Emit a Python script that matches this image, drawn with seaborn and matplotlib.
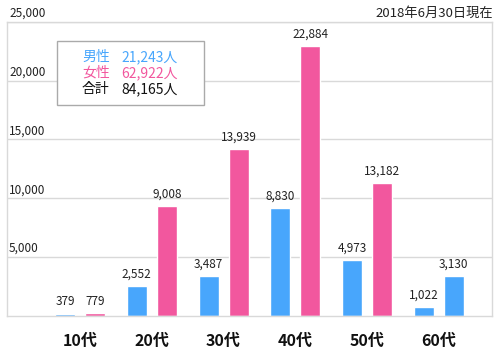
import matplotlib
matplotlib.use("Agg")
import matplotlib.pyplot as plt
import seaborn as sns
import pandas as pd
from matplotlib.patches import Rectangle

sns.set_style("white")
plt.rcParams['font.family'] = ['Noto Sans CJK JP', 'DejaVu Sans']

ages = ["10代", "20代", "30代", "40代", "50代", "60代"]
male_heights = [170, 2540, 3390, 9180, 4750, 790]
female_heights = [250, 9320, 14150, 22900, 11300, 3420]
male_labels = ["379", "2,552", "3,487", "8,830", "4,973", "1,022"]
female_labels = ["779", "9,008", "13,939", "22,884", "13,182", "3,130"]
yticks = [5000, 10000, 15000, 20000, 25000]
legend_names = ["男性", "女性", "合計"]
legend_values = ["21,243人", "62,922人", "84,165人"]
date_text = "2018年6月30日現在"

BLUE = "#48a6fc"
PINK = "#f2579e"
GRID = "#d9d9d9"

df = pd.DataFrame({
    "age": ages * 2,
    "sex": ["男性"] * 6 + ["女性"] * 6,
    "value": male_heights + female_heights,
})

fig = plt.figure(figsize=(5, 3.6), dpi=100)
ax = fig.add_axes([0.014, 0.1222, 0.97, 0.8175])
ax.set_axisbelow(True)
for y in yticks:
    ax.axhline(y, color=GRID, lw=1, zorder=0)

sns.barplot(data=df, x="age", y="value", hue="sex", palette=[BLUE, PINK],
            saturation=1, width=0.836, gap=0.333, legend=False, ax=ax, zorder=2)

bars = sorted([p for p in ax.patches if isinstance(p, Rectangle) and p.get_width() < 1],
              key=lambda p: p.get_x())
# the last bar (60代, second) is drawn blue in the reference
bars[-1].set_facecolor(BLUE)

labels_sorted = []
for m, f in zip(male_labels, female_labels):
    labels_sorted += [m, f]
for p, lab in zip(bars, labels_sorted):
    ax.annotate(lab, (p.get_x() + p.get_width() / 2, p.get_height()),
                xytext=(0, 4), textcoords="offset points",
                ha="center", va="bottom", fontsize=8.5, color="#222222")

ax.set_ylim(0, 25000)
ax.set_xlim(-1.017, 5.74)
ax.set_yticks([])
ax.set_xlabel("")
ax.set_ylabel("")
ax.tick_params(axis="x", length=0, pad=12)
ax.set_xticks(range(len(ages)))
ax.set_xticklabels(ages, fontsize=11.5, fontweight="bold", color="#111111")
for s in ax.spines.values():
    s.set_color(GRID)
    s.set_linewidth(1)

for y in yticks:
    ax.annotate(f"{y:,}", (0, y), xycoords=("axes fraction", "data"),
                xytext=(1.5, 1.5), textcoords="offset points",
                ha="left", va="bottom", fontsize=8.5, color="#222222")

fig.text(0.986, 0.963, date_text, ha="right", va="center", fontsize=9.5, color="#222222")

# legend box
lx0, lx1 = 57 / 500, 204 / 500
ly0, ly1 = 1 - 105 / 360, 1 - 41 / 360
fig.patches.append(Rectangle((lx0, ly0), lx1 - lx0, ly1 - ly0, transform=fig.transFigure,
                             facecolor="white", edgecolor="#aaaaaa", lw=1, zorder=5))
leg_colors = [BLUE, PINK, "#111111"]
for i, (n, v, c) in enumerate(zip(legend_names, legend_values, leg_colors)):
    yy = 1 - (57 + 16 * i) / 360
    fig.text(82 / 500, yy, n, ha="left", va="center", fontsize=10, color=c, zorder=6)
    fig.text(121 / 500, yy, v, ha="left", va="center", fontsize=10, color=c, zorder=6)

fig.savefig("out.png", dpi=100)
